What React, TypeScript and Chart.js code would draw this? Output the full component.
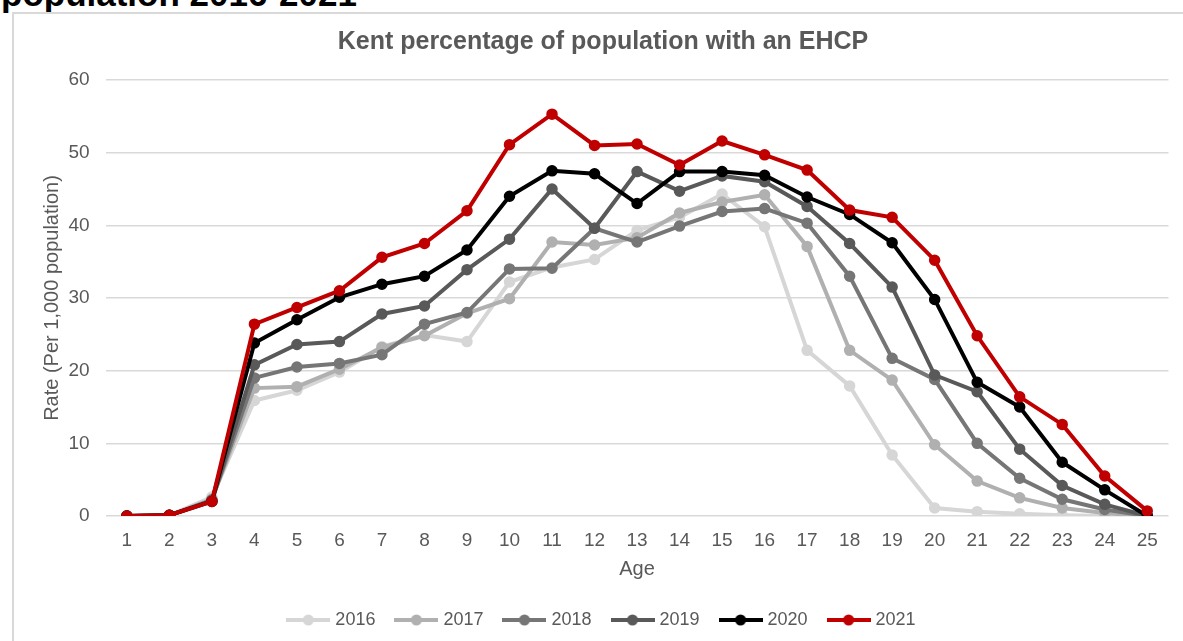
import React, { useEffect, useRef } from "react";
import { Chart, registerables } from "chart.js";

Chart.register(...registerables);

const ages = ["1", "2", "3", "4", "5", "6", "7", "8", "9", "10", "11", "12", "13", "14", "15", "16", "17", "18", "19", "20", "21", "22", "23", "24", "25"];
const years = ["2016", "2017", "2018", "2019", "2020", "2021"];

const rate2016 = [0, 0.1, 2.6, 15.9, 17.3, 19.8, 23.3, 24.9, 24.0, 32.2, 34.2, 35.3, 39.3, 41.1, 44.3, 39.8, 22.8, 17.9, 8.4, 1.1, 0.6, 0.3, 0.1, 0.0, 0.0];
const rate2017 = [0, 0.1, 2.3, 17.6, 17.8, 20.2, 23.2, 24.8, 27.9, 29.9, 37.7, 37.3, 38.3, 41.7, 43.2, 44.2, 37.1, 22.8, 18.7, 9.8, 4.8, 2.5, 1.1, 0.4, 0.0];
const rate2018 = [0, 0.1, 2.2, 19.0, 20.5, 21.0, 22.2, 26.4, 28.0, 34.0, 34.1, 39.6, 37.7, 39.9, 41.9, 42.3, 40.3, 33.0, 21.7, 18.8, 10.0, 5.2, 2.3, 0.9, 0.0];
const rate2019 = [0, 0.1, 2.1, 20.8, 23.6, 24.0, 27.8, 28.9, 33.9, 38.1, 45.0, 39.6, 47.4, 44.7, 46.8, 46.0, 42.6, 37.5, 31.5, 19.4, 17.1, 9.2, 4.2, 1.6, 0.0];
const rate2020 = [0, 0.1, 2.0, 23.8, 27.0, 30.1, 31.9, 33.0, 36.6, 44.0, 47.5, 47.1, 43.0, 47.4, 47.4, 46.9, 43.9, 41.5, 37.6, 29.8, 18.4, 15.0, 7.4, 3.6, 0.0];
const rate2021 = [0, 0.1, 2.0, 26.4, 28.7, 31.0, 35.6, 37.5, 42.0, 51.1, 55.3, 51.0, 51.2, 48.3, 51.6, 49.7, 47.6, 42.1, 41.1, 35.2, 24.8, 16.4, 12.6, 5.5, 0.7];

const seriesValues = [rate2016, rate2017, rate2018, rate2019, rate2020, rate2021];
const seriesColors = ["#d6d6d6", "#b0b0b0", "#767676", "#595959", "#000000", "#c00000"];

const chartTitle = "Kent percentage of population with an EHCP";
const yTitle = "Rate (Per 1,000 population)";
const xTitle = "Age";
const pageHeading = "population 2016-2021";

const FONT = "'Liberation Sans', Arial, sans-serif";
const TEXT = "#595959";

function legendIcon(color: string) {
  const c = document.createElement("canvas");
  c.width = 44;
  c.height = 14;
  const ctx = c.getContext("2d")!;
  ctx.strokeStyle = color;
  ctx.lineWidth = 4;
  ctx.beginPath();
  ctx.moveTo(0, 7);
  ctx.lineTo(44, 7);
  ctx.stroke();
  ctx.fillStyle = color;
  ctx.beginPath();
  ctx.arc(22, 7, 5.5, 0, Math.PI * 2);
  ctx.fill();
  return c;
}

export default function App() {
  const ref = useRef<HTMLCanvasElement | null>(null);

  useEffect(() => {
    if (!ref.current) return;
    const icons = seriesColors.map(legendIcon);
    const chart = new Chart(ref.current, {
      type: "line",
      data: {
        labels: ages,
        datasets: years.map((y, i) => ({
          label: y,
          data: seriesValues[i],
          borderColor: seriesColors[i],
          backgroundColor: seriesColors[i],
          pointBackgroundColor: seriesColors[i],
          pointBorderColor: seriesColors[i],
          borderWidth: 4,
          pointRadius: 5,
          pointBorderWidth: 1.5,
          tension: 0,
          fill: false,
          order: years.length - i,
        })),
      },
      options: {
        responsive: false,
        animation: false,
        events: [],
        layout: { padding: 0 },
        plugins: {
          title: {
            display: true,
            text: chartTitle,
            color: TEXT,
            font: { family: FONT, size: 25, weight: "bold" },
            padding: { top: 14, bottom: 23 },
          },
          legend: {
            display: true,
            position: "bottom",
            labels: {
              color: TEXT,
              font: { family: FONT, size: 18 },
              usePointStyle: true,
              pointStyleWidth: 36,
              boxHeight: 12,
              padding: 23,
              sort: (a: any, b: any) => a.datasetIndex - b.datasetIndex,
              generateLabels: (ch: any) => {
                const items = Chart.defaults.plugins.legend.labels.generateLabels(ch);
                return items.map((it: any) => ({ ...it, pointStyle: icons[it.datasetIndex] }));
              },
            },
          },
          tooltip: { enabled: false },
        },
        scales: {
          x: {
            offset: true,
            grid: { display: false },
            border: { display: false },
            ticks: { color: TEXT, font: { family: FONT, size: 19 }, padding: 5, maxRotation: 0, autoSkip: false },
            title: {
              display: true,
              text: xTitle,
              color: TEXT,
              font: { family: FONT, size: 20 },
              padding: { top: 4, bottom: 7 },
            },
            afterFit: (s: any) => {
              s.height = 72;
            },
          },
          y: {
            min: 0,
            max: 60,
            ticks: { stepSize: 10, color: TEXT, font: { family: FONT, size: 19 }, padding: 16 },
            grid: { color: "#d9d9d9", lineWidth: 1.5, drawTicks: false },
            border: { display: false },
            title: {
              display: true,
              text: yTitle,
              color: TEXT,
              font: { family: FONT, size: 20 },
              padding: { top: 9, bottom: 0 },
            },
            afterFit: (s: any) => {
              s.width = 74.6;
            },
          },
        },
      },
    } as any);
    return () => chart.destroy();
  }, []);

  return (
    <div style={{ position: "fixed", inset: 0, overflow: "hidden", background: "#fff" }}>
      <div
        style={{
          position: "absolute",
          left: 1,
          top: -24,
          fontFamily: FONT,
          fontWeight: "bold",
          fontSize: 35,
          lineHeight: "35px",
          color: "#000",
          whiteSpace: "nowrap",
        }}
      >
        {pageHeading}
      </div>
      <div
        style={{
          position: "absolute",
          left: 12,
          top: 12,
          width: 1200,
          height: 700,
          border: "2px solid #d9d9d9",
          background: "#fff",
        }}
      />
      <canvas
        ref={ref}
        width={1144}
        height={626}
        style={{ position: "absolute", left: 31, top: 13, width: 1144, height: 626 }}
      />
    </div>
  );
}
